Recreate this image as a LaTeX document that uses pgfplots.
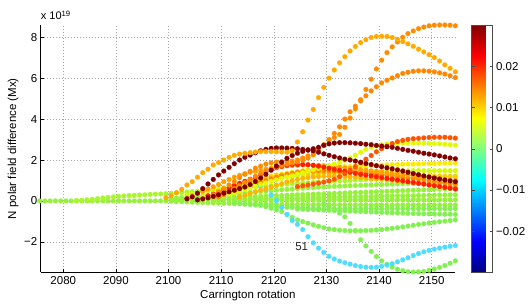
\documentclass[border=0pt]{standalone}
\usepackage{fontspec}
\setmainfont{Liberation Sans}
\usepackage{pgfplots}
\pgfplotsset{compat=1.18}
\newcommand\fs{\fontsize{11.5}{13.8}\selectfont}
\definecolor{cB0}{RGB}{150,240,60}
\definecolor{cB1}{RGB}{170,245,45}
\definecolor{cB7}{RGB}{210,250,10}
\definecolor{cG}{RGB}{130,240,80}
\definecolor{cC}{RGB}{80,220,255}
\definecolor{cY2}{RGB}{250,235,0}
\definecolor{cY1}{RGB}{225,250,0}
\definecolor{cYO}{RGB}{255,205,0}
\definecolor{cOR1}{RGB}{255,160,0}
\definecolor{cOR2}{RGB}{255,135,0}
\definecolor{cOR3}{RGB}{255,180,0}
\definecolor{cRD}{RGB}{255,30,0}
\definecolor{cR1}{RGB}{255,85,0}
\definecolor{cDR}{RGB}{130,0,0}
\definecolor{cO2}{RGB}{255,170,0}
\definecolor{cO3}{RGB}{255,135,0}
\definecolor{cO4}{RGB}{255,140,0}
\begin{document}
\begin{tikzpicture}
\begin{axis}[name=ax, at={(0,0)}, anchor=south west,
 scale only axis, width=414.3pt, height=247.5pt,
 xmin=2075.71, xmax=2154.43, ymin=-3.5, ymax=8.6,
 axis x line*=bottom, axis y line*=left,
 axis line style={black, line width=0.5pt},
 tick align=inside, major tick length=3.5pt, tick style={black, line width=0.5pt},
 xtick={2080,2090,2100,2110,2120,2130,2140,2150},
 xticklabels={2080,2090,2100,2110,2120,2130,2140,2150},
 ytick={-2,0,2,4,6,8}, yticklabels={−2,0,2,4,6,8},
 grid=major, grid style={gray!70, line width=0.4pt, dash pattern=on 0.6pt off 2.4pt},
 tick label style={font=\fs},
 xlabel={Carrington rotation}, ylabel={N polar field difference (Mx)},
 label style={font=\fs},
 xlabel style={at={(axis description cs:0.5,-0.0707)}, anchor=north, inner sep=0pt},
 ylabel style={at={(axis description cs:-0.0531,0.5)}, anchor=south, inner sep=0pt},
 clip=false,
 colorbar, colormap/jet, point meta min=-0.03, point meta max=0.03,
 colorbar style={width=21pt, at={(parent axis.north east)}, anchor=north west, xshift=8pt,
   scaled y ticks=false,
   ytick={-0.02,-0.01,0,0.01,0.02}, yticklabels={−0.02,−0.01,0,0.01,0.02},
   yticklabel style={font=\fs}, axis line style={black!70}, tick style={black!70}, major tick length=3pt},
 dots/.style={only marks, mark=*, mark size=2.4pt, mark options={line width=0.2pt}},
]
% bundle
\addplot[dots, cB0] coordinates {(2075.5,0)(2076.5,0)(2077.5,0)(2078.5,0)(2079.5,0)(2080.5,0)(2081.5,0)(2082.5,0)(2083.5,0)(2084.5,0)(2085.5,0)(2086.5,0)(2087.5,0)(2088.5,0)(2089.5,0)(2090.5,0)(2091.5,0)(2092.5,0)(2093.5,0)(2094.5,0)(2095.5,0)(2096.5,0)(2097.5,0)(2098.5,0)(2099.5,0)
(2100.5,0.01)(2101.5,0.01)(2102.5,0.02)(2103.5,0.02)(2104.5,0.03)(2105.5,0.03)(2106.5,0.04)(2107.5,0.04)(2108.5,0.05)(2109.5,0.05)
(2110.5,0.05)(2111.5,0.05)(2112.5,0.05)(2113.5,0.05)(2114.5,0.05)(2115.5,0.05)(2116.5,0.05)(2117.5,0.05)(2118.5,0.05)(2119.5,0.05)
(2120.5,0.05)(2121.5,0.05)(2122.5,0.05)(2123.5,0.05)(2124.5,0.05)(2125.5,0.05)(2126.5,0.05)(2127.5,0.05)(2128.5,0.05)(2129.5,0.05)
(2130.5,0.05)(2131.5,0.05)(2132.5,0.05)(2133.5,0.05)(2134.5,0.05)(2135.5,0.05)(2136.5,0.05)(2137.5,0.05)(2138.5,0.05)(2139.5,0.05)
(2140.5,0.05)(2141.5,0.05)(2142.5,0.05)(2143.5,0.05)(2144.5,0.05)(2145.5,0.05)(2146.5,0.05)(2147.5,0.05)(2148.5,0.05)(2149.5,0.05)
(2150.5,0.05)(2151.5,0.05)(2152.5,0.05)(2153.5,0.05)(2154.5,0.05)};
\addplot[dots, cB0] coordinates {(2100.5,-0.02)(2101.5,-0.03)(2102.5,-0.04)(2103.5,-0.05)(2104.5,-0.06)(2105.5,-0.07)(2106.5,-0.08)(2107.5,-0.09)(2108.5,-0.10)(2109.5,-0.11)
(2110.5,-0.12)(2111.5,-0.12)(2112.5,-0.13)(2113.5,-0.13)(2114.5,-0.14)(2115.5,-0.14)(2116.5,-0.15)(2117.5,-0.15)(2118.5,-0.15)(2119.5,-0.16)
(2120.5,-0.16)(2121.5,-0.16)(2122.5,-0.16)(2123.5,-0.17)(2124.5,-0.17)(2125.5,-0.17)(2126.5,-0.17)(2127.5,-0.18)(2128.5,-0.18)(2129.5,-0.18)
(2130.5,-0.18)(2131.5,-0.18)(2132.5,-0.19)(2133.5,-0.19)(2134.5,-0.19)(2135.5,-0.19)(2136.5,-0.19)(2137.5,-0.19)(2138.5,-0.20)(2139.5,-0.20)
(2140.5,-0.20)(2141.5,-0.20)(2142.5,-0.20)(2143.5,-0.20)(2144.5,-0.20)(2145.5,-0.20)(2146.5,-0.20)(2147.5,-0.20)(2148.5,-0.20)(2149.5,-0.20)
(2150.5,-0.20)(2151.5,-0.20)(2152.5,-0.20)(2153.5,-0.20)(2154.5,-0.20)};
\addplot[dots, cB0] coordinates {(2100.5,0.03)(2101.5,0.04)(2102.5,0.04)(2103.5,0.05)(2104.5,0.05)(2105.5,0.06)(2106.5,0.06)(2107.5,0.07)(2108.5,0.07)(2109.5,0.08)
(2110.5,0.08)(2111.5,0.09)(2112.5,0.09)(2113.5,0.10)(2114.5,0.10)(2115.5,0.11)(2116.5,0.11)(2117.5,0.12)(2118.5,0.12)(2119.5,0.13)
(2120.5,0.13)(2121.5,0.14)(2122.5,0.14)(2123.5,0.15)(2124.5,0.15)(2125.5,0.16)(2126.5,0.16)(2127.5,0.17)(2128.5,0.17)(2129.5,0.18)
(2130.5,0.18)(2131.5,0.19)(2132.5,0.19)(2133.5,0.20)(2134.5,0.20)(2135.5,0.21)(2136.5,0.21)(2137.5,0.22)(2138.5,0.22)(2139.5,0.23)
(2140.5,0.23)(2141.5,0.24)(2142.5,0.24)(2143.5,0.25)(2144.5,0.25)(2145.5,0.26)(2146.5,0.26)(2147.5,0.27)(2148.5,0.27)(2149.5,0.28)
(2150.5,0.28)(2151.5,0.29)(2152.5,0.29)(2153.5,0.30)(2154.5,0.30)};
\addplot[dots, cB0] coordinates {(2100.5,0.06)(2101.5,0.07)(2102.5,0.08)(2103.5,0.09)(2104.5,0.10)(2105.5,0.11)(2106.5,0.12)(2107.5,0.13)(2108.5,0.14)(2109.5,0.15)
(2110.5,0.16)(2111.5,0.17)(2112.5,0.18)(2113.5,0.19)(2114.5,0.20)(2115.5,0.21)(2116.5,0.22)(2117.5,0.23)(2118.5,0.24)(2119.5,0.25)
(2120.5,0.26)(2121.5,0.27)(2122.5,0.28)(2123.5,0.29)(2124.5,0.30)(2125.5,0.31)(2126.5,0.32)(2127.5,0.33)(2128.5,0.34)(2129.5,0.35)
(2130.5,0.36)(2131.5,0.37)(2132.5,0.38)(2133.5,0.39)(2134.5,0.40)(2135.5,0.41)(2136.5,0.42)(2137.5,0.43)(2138.5,0.44)(2139.5,0.45)
(2140.5,0.46)(2141.5,0.47)(2142.5,0.48)(2143.5,0.49)(2144.5,0.50)(2145.5,0.51)(2146.5,0.52)(2147.5,0.53)(2148.5,0.54)(2149.5,0.55)
(2150.5,0.56)(2151.5,0.57)(2152.5,0.58)(2153.5,0.59)(2154.5,0.60)};
\addplot[dots, cB0] coordinates {(2100.5,0.12)(2101.5,0.14)(2102.5,0.16)(2103.5,0.18)(2104.5,0.20)(2105.5,0.22)(2106.5,0.24)(2107.5,0.26)(2108.5,0.28)(2109.5,0.30)
(2110.5,0.32)(2111.5,0.34)(2112.5,0.36)(2113.5,0.38)(2114.5,0.40)(2115.5,0.42)(2116.5,0.44)(2117.5,0.46)(2118.5,0.48)(2119.5,0.50)
(2120.5,0.52)(2121.5,0.54)(2122.5,0.56)(2123.5,0.58)(2124.5,0.60)(2125.5,0.62)(2126.5,0.64)(2127.5,0.65)(2128.5,0.67)(2129.5,0.68)
(2130.5,0.70)(2131.5,0.71)(2132.5,0.72)(2133.5,0.73)(2134.5,0.74)(2135.5,0.75)(2136.5,0.76)(2137.5,0.77)(2138.5,0.78)(2139.5,0.79)
(2140.5,0.80)(2141.5,0.81)(2142.5,0.82)(2143.5,0.83)(2144.5,0.84)(2145.5,0.85)(2146.5,0.85)(2147.5,0.86)(2148.5,0.87)(2149.5,0.87)
(2150.5,0.88)(2151.5,0.88)(2152.5,0.89)(2153.5,0.89)(2154.5,0.90)};
\addplot[dots, cB1] coordinates {(2082.5,0.02)(2083.5,0.03)(2084.5,0.05)(2085.5,0.08)(2086.5,0.11)(2087.5,0.14)(2088.5,0.17)(2089.5,0.20)(2090.5,0.22)(2091.5,0.24)(2092.5,0.26)(2093.5,0.27)(2094.5,0.29)(2095.5,0.30)(2096.5,0.32)(2097.5,0.33)(2098.5,0.34)(2099.5,0.35)
(2100.5,0.37)(2101.5,0.39)(2102.5,0.41)(2103.5,0.43)(2104.5,0.45)(2105.5,0.47)(2106.5,0.49)(2107.5,0.51)(2108.5,0.53)(2109.5,0.55)
(2110.5,0.57)(2111.5,0.59)(2112.5,0.61)(2113.5,0.63)(2114.5,0.65)(2115.5,0.67)(2116.5,0.69)(2117.5,0.71)(2118.5,0.73)(2119.5,0.75)
(2120.5,0.77)(2121.5,0.79)(2122.5,0.81)(2123.5,0.83)(2124.5,0.85)(2125.5,0.87)(2126.5,0.89)(2127.5,0.90)(2128.5,0.92)(2129.5,0.93)
(2130.5,0.95)(2131.5,0.96)(2132.5,0.98)(2133.5,0.99)(2134.5,1.00)(2135.5,1.02)(2136.5,1.03)(2137.5,1.04)(2138.5,1.05)(2139.5,1.06)
(2140.5,1.07)(2141.5,1.08)(2142.5,1.09)(2143.5,1.10)(2144.5,1.11)(2145.5,1.12)(2146.5,1.13)(2147.5,1.14)(2148.5,1.15)(2149.5,1.16)
(2150.5,1.17)(2151.5,1.18)(2152.5,1.19)(2153.5,1.20)(2154.5,1.21)};
\addplot[dots, cB7] coordinates {(2103.5,0.30)(2104.5,0.35)(2105.5,0.40)(2106.5,0.45)(2107.5,0.50)(2108.5,0.55)(2109.5,0.60)
(2110.5,0.65)(2111.5,0.70)(2112.5,0.75)(2113.5,0.80)(2114.5,0.85)(2115.5,0.90)(2116.5,0.94)(2117.5,0.98)(2118.5,1.02)(2119.5,1.06)
(2120.5,1.10)(2121.5,1.13)(2122.5,1.16)(2123.5,1.19)(2124.5,1.22)(2125.5,1.25)(2126.5,1.27)(2127.5,1.29)(2128.5,1.31)(2129.5,1.33)
(2130.5,1.35)(2131.5,1.36)(2132.5,1.38)(2133.5,1.39)(2134.5,1.40)(2135.5,1.41)(2136.5,1.42)(2137.5,1.43)(2138.5,1.44)(2139.5,1.45)
(2140.5,1.45)(2141.5,1.46)(2142.5,1.46)(2143.5,1.47)(2144.5,1.47)(2145.5,1.47)(2146.5,1.48)(2147.5,1.48)(2148.5,1.48)(2149.5,1.48)
(2150.5,1.48)(2151.5,1.48)(2152.5,1.48)(2153.5,1.48)(2154.5,1.48)};
% lower green rows
\addplot[dots, cG] coordinates {(2112.5,-0.12)(2113.5,-0.14)(2114.5,-0.16)(2115.5,-0.18)(2116.5,-0.20)(2117.5,-0.22)(2118.5,-0.24)(2119.5,-0.26)
(2120.5,-0.28)(2121.5,-0.30)(2122.5,-0.31)(2123.5,-0.32)(2124.5,-0.33)(2125.5,-0.34)(2126.5,-0.35)(2127.5,-0.36)(2128.5,-0.36)(2129.5,-0.37)
(2130.5,-0.37)(2131.5,-0.38)(2132.5,-0.38)(2133.5,-0.38)(2134.5,-0.38)(2135.5,-0.38)(2136.5,-0.38)(2137.5,-0.38)(2138.5,-0.38)(2139.5,-0.38)
(2140.5,-0.38)(2141.5,-0.38)(2142.5,-0.38)(2143.5,-0.38)(2144.5,-0.38)(2145.5,-0.38)(2146.5,-0.38)(2147.5,-0.38)(2148.5,-0.38)(2149.5,-0.38)
(2150.5,-0.38)(2151.5,-0.38)(2152.5,-0.38)(2153.5,-0.38)(2154.5,-0.38)};
\addplot[dots, cG] coordinates {(2124.5,-0.40)(2125.5,-0.41)(2126.5,-0.42)(2127.5,-0.43)(2128.5,-0.44)(2129.5,-0.45)
(2130.5,-0.46)(2131.5,-0.47)(2132.5,-0.48)(2133.5,-0.49)(2134.5,-0.50)(2135.5,-0.51)(2136.5,-0.52)(2137.5,-0.53)(2138.5,-0.54)(2139.5,-0.55)
(2140.5,-0.56)(2141.5,-0.57)(2142.5,-0.58)(2143.5,-0.59)(2144.5,-0.60)(2145.5,-0.61)(2146.5,-0.62)(2147.5,-0.62)(2148.5,-0.63)(2149.5,-0.63)
(2150.5,-0.64)(2151.5,-0.64)(2152.5,-0.65)(2153.5,-0.65)(2154.5,-0.66)};
\addplot[dots, cG] coordinates {(2117.5,-0.20)(2118.5,-0.28)(2119.5,-0.36)
(2120.5,-0.44)(2121.5,-0.52)(2122.5,-0.66)(2123.5,-0.80)(2124.5,-0.93)(2125.5,-1.01)(2126.5,-1.09)(2127.5,-1.17)(2128.5,-1.24)(2129.5,-1.31)
(2130.5,-1.37)(2131.5,-1.40)(2132.5,-1.43)(2133.5,-1.45)(2134.5,-1.46)(2135.5,-1.46)(2136.5,-1.46)(2137.5,-1.45)(2138.5,-1.44)(2139.5,-1.42)
(2140.5,-1.40)(2141.5,-1.37)(2142.5,-1.34)(2143.5,-1.31)(2144.5,-1.27)(2145.5,-1.23)(2146.5,-1.19)(2147.5,-1.15)(2148.5,-1.12)(2149.5,-1.08)
(2150.5,-1.05)(2151.5,-1.02)(2152.5,-0.99)(2153.5,-0.96)(2154.5,-0.93)};
\addplot[dots, cG] coordinates {(2129.5,-0.15)
(2130.5,-0.30)(2131.5,-0.45)(2132.5,-0.60)(2133.5,-0.78)(2134.5,-1.10)(2135.5,-1.45)(2136.5,-1.90)(2137.5,-2.20)(2138.5,-2.47)(2139.5,-2.72)
(2140.5,-2.93)(2141.5,-3.10)(2142.5,-3.24)(2143.5,-3.34)(2144.5,-3.41)(2145.5,-3.46)(2146.5,-3.48)(2147.5,-3.47)(2148.5,-3.45)(2149.5,-3.39)
(2150.5,-3.33)(2151.5,-3.25)(2152.5,-3.16)(2153.5,-3.05)(2154.5,-2.93)};
% cyan
\addplot[dots, cC] coordinates {(2115.5,0.70)(2116.5,0.80)(2117.5,0.72)(2118.5,0.55)(2119.5,0.30)
(2120.5,0.02)(2121.5,-0.32)(2122.5,-0.66)(2123.5,-0.96)(2124.5,-1.15)(2125.5,-1.40)(2126.5,-1.75)(2127.5,-2.05)(2128.5,-2.31)(2129.5,-2.52)
(2130.5,-2.71)(2131.5,-2.84)(2132.5,-2.94)(2133.5,-3.02)(2134.5,-3.09)(2135.5,-3.16)(2136.5,-3.21)(2137.5,-3.24)(2138.5,-3.25)(2139.5,-3.24)
(2140.5,-3.20)(2141.5,-3.14)(2142.5,-3.07)(2143.5,-2.98)(2144.5,-2.88)(2145.5,-2.78)(2146.5,-2.67)(2147.5,-2.57)(2148.5,-2.49)(2149.5,-2.42)
(2150.5,-2.36)(2151.5,-2.31)(2152.5,-2.26)(2153.5,-2.22)(2154.5,-2.18)};
% yellow / orange band
\addplot[dots, cY2] coordinates {(2106.5,0.20)(2107.5,0.28)(2108.5,0.36)(2109.5,0.44)
(2110.5,0.52)(2111.5,0.60)(2112.5,0.68)(2113.5,0.76)(2114.5,0.84)(2115.5,0.92)(2116.5,1.00)(2117.5,1.07)(2118.5,1.14)(2119.5,1.20)
(2120.5,1.26)(2121.5,1.31)(2122.5,1.36)(2123.5,1.40)(2124.5,1.44)(2125.5,1.48)(2126.5,1.51)(2127.5,1.54)(2128.5,1.57)(2129.5,1.59)
(2130.5,1.61)(2131.5,1.63)(2132.5,1.65)(2133.5,1.67)(2134.5,1.68)(2135.5,1.70)(2136.5,1.71)(2137.5,1.72)(2138.5,1.73)(2139.5,1.74)
(2140.5,1.75)(2141.5,1.76)(2142.5,1.77)(2143.5,1.78)(2144.5,1.79)(2145.5,1.80)(2146.5,1.80)(2147.5,1.81)(2148.5,1.82)(2149.5,1.82)
(2150.5,1.83)(2151.5,1.84)(2152.5,1.84)(2153.5,1.85)(2154.5,1.85)};
\addplot[dots, cYO] coordinates {(2108.5,0.20)(2109.5,0.30)
(2110.5,0.40)(2111.5,0.50)(2112.5,0.60)(2113.5,0.70)(2114.5,0.80)(2115.5,0.90)(2116.5,0.98)(2117.5,1.05)(2118.5,1.12)(2119.5,1.18)
(2120.5,1.23)(2121.5,1.27)(2122.5,1.30)(2123.5,1.33)(2124.5,1.35)(2125.5,1.37)(2126.5,1.38)(2127.5,1.39)(2128.5,1.40)(2129.5,1.40)
(2130.5,1.40)(2131.5,1.40)(2132.5,1.39)(2133.5,1.39)(2134.5,1.38)(2135.5,1.37)(2136.5,1.36)(2137.5,1.35)(2138.5,1.34)(2139.5,1.33)
(2140.5,1.32)(2141.5,1.31)(2142.5,1.30)(2143.5,1.29)(2144.5,1.28)(2145.5,1.27)(2146.5,1.26)(2147.5,1.25)(2148.5,1.24)(2149.5,1.23)
(2150.5,1.22)(2151.5,1.21)(2152.5,1.20)(2153.5,1.19)(2154.5,1.18)};
\addplot[dots, cOR3] coordinates {(2113.5,0.20)(2114.5,0.28)(2115.5,0.36)(2116.5,0.44)(2117.5,0.52)(2118.5,0.60)(2119.5,0.68)
(2120.5,0.76)(2121.5,0.84)(2122.5,0.92)(2123.5,0.99)(2124.5,1.05)(2125.5,1.10)(2126.5,1.14)(2127.5,1.17)(2128.5,1.19)(2129.5,1.20)
(2130.5,1.21)(2131.5,1.21)(2132.5,1.20)(2133.5,1.19)(2134.5,1.18)(2135.5,1.16)(2136.5,1.14)(2137.5,1.12)(2138.5,1.10)(2139.5,1.08)
(2140.5,1.06)(2141.5,1.04)(2142.5,1.01)(2143.5,0.98)(2144.5,0.95)(2145.5,0.92)(2146.5,0.89)(2147.5,0.86)(2148.5,0.83)(2149.5,0.80)
(2150.5,0.77)(2151.5,0.74)(2152.5,0.71)(2153.5,0.68)(2154.5,0.65)};
\addplot[dots, cOR2] coordinates {(2109.5,0.20)
(2110.5,0.28)(2111.5,0.36)(2112.5,0.45)(2113.5,0.54)(2114.5,0.63)(2115.5,0.72)(2116.5,0.81)(2117.5,0.90)(2118.5,0.99)(2119.5,1.08)
(2120.5,1.16)(2121.5,1.23)(2122.5,1.30)(2123.5,1.35)(2124.5,1.40)(2125.5,1.43)(2126.5,1.45)(2127.5,1.46)(2128.5,1.47)(2129.5,1.47)
(2130.5,1.47)(2131.5,1.46)(2132.5,1.45)(2133.5,1.44)(2134.5,1.43)(2135.5,1.41)(2136.5,1.39)(2137.5,1.37)(2138.5,1.34)(2139.5,1.31)
(2140.5,1.28)(2141.5,1.25)(2142.5,1.22)(2143.5,1.19)(2144.5,1.16)(2145.5,1.13)(2146.5,1.10)(2147.5,1.07)(2148.5,1.04)(2149.5,1.00)
(2150.5,0.96)(2151.5,0.92)(2152.5,0.88)(2153.5,0.84)(2154.5,0.80)};
\addplot[dots, cOR1] coordinates {(2103.5,0.15)(2104.5,0.25)(2105.5,0.36)(2106.5,0.47)(2107.5,0.58)(2108.5,0.69)(2109.5,0.80)
(2110.5,0.94)(2111.5,1.05)(2112.5,1.16)(2113.5,1.25)(2114.5,1.33)(2115.5,1.40)(2116.5,1.45)(2117.5,1.50)(2118.5,1.55)(2119.5,1.60)
(2120.5,1.64)(2121.5,1.68)(2122.5,1.71)(2123.5,1.73)(2124.5,1.75)(2125.5,1.76)(2126.5,1.76)(2127.5,1.75)(2128.5,1.74)(2129.5,1.72)
(2130.5,1.70)(2131.5,1.68)(2132.5,1.65)(2133.5,1.62)(2134.5,1.59)(2135.5,1.56)(2136.5,1.53)(2137.5,1.50)(2138.5,1.47)(2139.5,1.44)
(2140.5,1.41)(2141.5,1.38)(2142.5,1.35)(2143.5,1.32)(2144.5,1.29)(2145.5,1.26)(2146.5,1.23)(2147.5,1.20)(2148.5,1.17)(2149.5,1.14)
(2150.5,1.11)(2151.5,1.08)(2152.5,1.05)(2153.5,1.02)(2154.5,1.00)};
\addplot[dots, cY1] coordinates {(2110.5,0.25)(2111.5,0.32)(2112.5,0.40)(2113.5,0.48)(2114.5,0.56)(2115.5,0.64)(2116.5,0.72)(2117.5,0.80)(2118.5,0.88)(2119.5,0.96)
(2120.5,1.03)(2121.5,1.10)(2122.5,1.17)(2123.5,1.24)(2124.5,1.31)(2125.5,1.38)(2126.5,1.45)(2127.5,1.52)(2128.5,1.59)(2129.5,1.66)
(2130.5,1.73)(2131.5,1.80)(2132.5,1.88)(2133.5,1.98)(2134.5,2.10)(2135.5,2.24)(2136.5,2.38)(2137.5,2.52)(2138.5,2.62)(2139.5,2.69)
(2140.5,2.74)(2141.5,2.78)(2142.5,2.81)(2143.5,2.82)(2144.5,2.83)(2145.5,2.83)(2146.5,2.83)(2147.5,2.83)(2148.5,2.82)(2149.5,2.81)
(2150.5,2.80)(2151.5,2.79)(2152.5,2.77)(2153.5,2.75)(2154.5,2.73)};
\addplot[dots, cRD] coordinates {(2107.5,0.25)(2108.5,0.33)(2109.5,0.42)
(2110.5,0.54)(2111.5,0.65)(2112.5,0.76)(2113.5,0.86)(2114.5,0.96)(2115.5,1.06)(2116.5,1.15)(2117.5,1.28)(2118.5,1.42)(2119.5,1.53)
(2120.5,1.62)(2121.5,1.69)(2122.5,1.74)(2123.5,1.77)(2124.5,1.78)(2125.5,1.78)(2126.5,1.77)(2127.5,1.74)(2128.5,1.70)(2129.5,1.65)
(2130.5,1.60)(2131.5,1.55)(2132.5,1.50)(2133.5,1.45)(2134.5,1.40)(2135.5,1.35)(2136.5,1.30)(2137.5,1.26)(2138.5,1.22)(2139.5,1.18)
(2140.5,1.14)(2141.5,1.10)(2142.5,1.06)(2143.5,1.02)(2144.5,0.98)(2145.5,0.94)(2146.5,0.90)(2147.5,0.86)(2148.5,0.82)(2149.5,0.78)
(2150.5,0.74)(2151.5,0.70)(2152.5,0.66)(2153.5,0.62)(2154.5,0.58)};
\addplot[dots, cR1] coordinates {(2124.5,0.70)(2125.5,0.74)(2126.5,0.78)(2127.5,0.82)(2128.5,0.87)(2129.5,0.92)
(2130.5,0.98)(2131.5,1.06)(2132.5,1.18)(2133.5,1.33)(2134.5,1.50)(2135.5,1.68)(2136.5,1.86)(2137.5,2.04)(2138.5,2.22)(2139.5,2.40)
(2140.5,2.55)(2141.5,2.68)(2142.5,2.80)(2143.5,2.90)(2144.5,2.96)(2145.5,3.01)(2146.5,3.04)(2147.5,3.06)(2148.5,3.08)(2149.5,3.10)
(2150.5,3.11)(2151.5,3.11)(2152.5,3.11)(2153.5,3.09)(2154.5,3.07)};
% big orange curves
\addplot[dots, cO3] coordinates {(2110.5,0.30)(2111.5,0.45)(2112.5,0.60)(2113.5,0.75)(2114.5,0.90)(2115.5,1.05)(2116.5,1.20)(2117.5,1.33)(2118.5,1.45)(2119.5,1.55)
(2120.5,1.65)(2121.5,1.73)(2122.5,1.80)(2123.5,1.85)(2124.5,1.90)(2125.5,2.00)(2126.5,2.10)(2127.5,2.25)(2128.5,2.45)(2129.5,2.70)
(2130.5,3.00)(2131.5,3.30)(2132.5,3.62)(2133.5,4.00)(2134.5,4.36)(2135.5,4.63)(2136.5,4.89)(2137.5,5.14)(2138.5,5.38)(2139.5,5.58)
(2140.5,5.77)(2141.5,5.90)(2142.5,6.01)(2143.5,6.12)(2144.5,6.23)(2145.5,6.29)(2146.5,6.34)(2147.5,6.36)(2148.5,6.36)(2149.5,6.34)
(2150.5,6.31)(2151.5,6.26)(2152.5,6.20)(2153.5,6.12)(2154.5,6.03)};
\addplot[dots, cO4] coordinates {(2108.5,0.30)(2109.5,0.45)
(2110.5,0.60)(2111.5,0.78)(2112.5,0.95)(2113.5,1.13)(2114.5,1.30)(2115.5,1.45)(2116.5,1.60)(2117.5,1.70)(2118.5,1.80)(2119.5,1.86)
(2120.5,1.90)(2121.5,1.92)(2122.5,1.93)(2123.5,1.95)(2124.5,2.00)(2125.5,2.10)(2126.5,2.20)(2127.5,2.35)(2128.5,2.55)(2129.5,2.75)
(2130.5,2.95)(2131.5,3.10)(2132.5,3.25)(2133.5,3.60)(2134.5,4.05)(2135.5,4.50)(2136.5,4.95)(2137.5,5.45)(2138.5,5.95)(2139.5,6.45)
(2140.5,6.88)(2141.5,7.25)(2142.5,7.53)(2143.5,7.77)(2144.5,8.00)(2145.5,8.18)(2146.5,8.31)(2147.5,8.42)(2148.5,8.50)(2149.5,8.56)
(2150.5,8.59)(2151.5,8.60)(2152.5,8.60)(2153.5,8.59)(2154.5,8.56)};
% dark red
\addplot[dots, cDR] coordinates {(2103.5,0.10)(2104.5,0.20)(2105.5,0.38)(2106.5,0.60)(2107.5,0.83)(2108.5,1.05)(2109.5,1.27)
(2110.5,1.46)(2111.5,1.64)(2112.5,1.82)(2113.5,2.00)(2114.5,2.13)(2115.5,2.24)(2116.5,2.35)(2117.5,2.45)(2118.5,2.52)(2119.5,2.57)
(2120.5,2.59)(2121.5,2.59)(2122.5,2.58)(2123.5,2.57)(2124.5,2.55)(2125.5,2.52)(2126.5,2.49)(2127.5,2.45)(2128.5,2.38)(2129.5,2.30)
(2130.5,2.23)(2131.5,2.16)(2132.5,2.10)(2133.5,2.04)(2134.5,2.00)(2135.5,1.95)(2136.5,1.89)(2137.5,1.83)(2138.5,1.78)(2139.5,1.72)
(2140.5,1.67)(2141.5,1.62)(2142.5,1.57)(2143.5,1.52)(2144.5,1.46)(2145.5,1.40)(2146.5,1.34)(2147.5,1.28)(2148.5,1.22)(2149.5,1.17)
(2150.5,1.12)(2151.5,1.07)(2152.5,1.02)(2153.5,0.98)(2154.5,0.94)};
\addplot[dots, cDR] coordinates {(2105.5,0.05)(2106.5,0.10)(2107.5,0.15)(2108.5,0.22)(2109.5,0.30)
(2110.5,0.38)(2111.5,0.45)(2112.5,0.52)(2113.5,0.60)(2114.5,0.68)(2115.5,0.80)(2116.5,0.95)(2117.5,1.12)(2118.5,1.30)(2119.5,1.50)
(2120.5,1.70)(2121.5,1.89)(2122.5,2.08)(2123.5,2.22)(2124.5,2.33)(2125.5,2.42)(2126.5,2.49)(2127.5,2.55)(2128.5,2.62)(2129.5,2.72)
(2130.5,2.79)(2131.5,2.83)(2132.5,2.85)(2133.5,2.85)(2134.5,2.84)(2135.5,2.82)(2136.5,2.80)(2137.5,2.77)(2138.5,2.75)(2139.5,2.71)
(2140.5,2.68)(2141.5,2.65)(2142.5,2.62)(2143.5,2.57)(2144.5,2.52)(2145.5,2.47)(2146.5,2.43)(2147.5,2.38)(2148.5,2.33)(2149.5,2.29)
(2150.5,2.25)(2151.5,2.20)(2152.5,2.15)(2153.5,2.10)(2154.5,2.06)};
\addplot[dots, cO2] coordinates {(2099.5,0.15)(2100.5,0.25)(2101.5,0.40)(2102.5,0.57)(2103.5,0.78)(2104.5,0.94)(2105.5,1.16)(2106.5,1.38)(2107.5,1.55)(2108.5,1.76)(2109.5,1.88)
(2110.5,2.00)(2111.5,2.13)(2112.5,2.23)(2113.5,2.29)(2114.5,2.33)(2115.5,2.36)(2116.5,2.39)(2117.5,2.41)(2118.5,2.41)(2119.5,2.41)
(2120.5,2.40)(2121.5,2.39)(2122.5,2.38)(2123.5,2.45)(2124.5,2.88)(2125.5,3.38)(2126.5,3.95)(2127.5,4.47)(2128.5,5.05)(2129.5,5.55)
(2130.5,6.00)(2131.5,6.40)(2132.5,6.75)(2133.5,7.05)(2134.5,7.33)(2135.5,7.55)(2136.5,7.74)(2137.5,7.88)(2138.5,7.99)(2139.5,8.04)
(2140.5,8.05)(2141.5,8.04)(2142.5,7.99)(2143.5,7.90)(2144.5,7.79)(2145.5,7.68)(2146.5,7.56)(2147.5,7.42)(2148.5,7.28)(2149.5,7.15)
(2150.5,7.01)(2151.5,6.84)(2152.5,6.65)(2153.5,6.48)(2154.5,6.31)};
\node[font=\fs, text=black!85] at (axis cs:2125.3,-2.25) {51};
\node[font=\fontsize{11}{13}\selectfont, anchor=base west, inner sep=0pt] at (axis description cs:0,1.0202) {x 10\textsuperscript{19}};
\end{axis}
\pgfresetboundingbox
\path[use as bounding box] ([shift={(-40.7pt,-34.5pt)}]ax.south west) rectangle ([shift={(77pt,25pt)}]ax.north east);
\end{tikzpicture}
\end{document}
